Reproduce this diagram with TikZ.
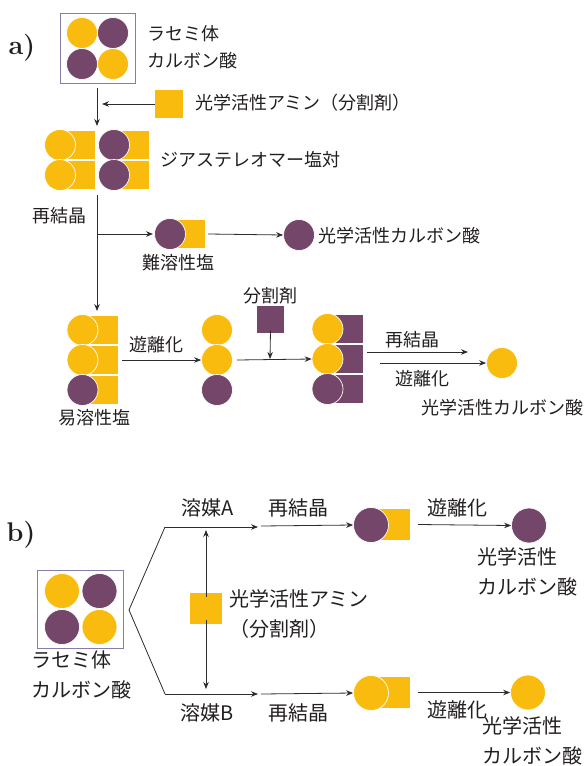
\documentclass[tikz,border=0pt]{standalone}
\usepackage{fontspec}
\newfontfamily\jp{Noto Sans CJK JP}
\usetikzlibrary{arrows.meta}
\definecolor{cy}{RGB}{249,188,14}
\definecolor{cp}{RGB}{116,70,106}
\definecolor{boxc}{RGB}{135,125,170}
\definecolor{txt}{RGB}{35,31,32}
\definecolor{ar}{RGB}{45,45,45}
\begin{document}
\begin{tikzpicture}[x=1pt,y=-1pt,
  yca/.style={circle,fill=cy,draw=white,line width=0.7pt,minimum size=31pt,inner sep=0},
  pca/.style={circle,fill=cp,draw=white,line width=0.7pt,minimum size=31pt,inner sep=0},
  ycb/.style={yca,minimum size=35pt},
  pcb/.style={pca,minimum size=35pt},
  ysq/.style={rectangle,fill=cy,minimum width=28pt,minimum height=28pt,inner sep=0},
  psq/.style={rectangle,fill=cp,minimum width=28pt,minimum height=28pt,inner sep=0},
  ta/.style={font=\jp\fontsize{18}{27}\selectfont,text=txt,inner sep=0,align=left},
  tb/.style={font=\jp\fontsize{20}{30}\selectfont,text=txt,inner sep=0,align=left},
  arr/.style={draw=ar,line width=0.8pt,-{Stealth[length=7pt,width=5.5pt]}},
  ln/.style={draw=ar,line width=0.8pt},
  tag/.style={font=\fontsize{27}{27}\selectfont\bfseries,text=txt,inner sep=0}]
\useasboundingbox (0,0) rectangle (585,766);

% ---------------- a) ----------------
\node[tag] (taga) at (22,48) {a)};
\node[draw=boxc,line width=1pt,minimum width=75pt,minimum height=70pt,inner sep=0] (boxa) at (97.5,48) {};
\node[yca] (ra1) at (82,33) {};
\node[pca] (ra2) at (113,33) {};
\node[pca] (ra3) at (82,64) {};
\node[yca] (ra4) at (113,64) {};
\node[ta,anchor=west] (racA) at (147,47) {ラセミ体\\カルボン酸};

\coordinate (a1s) at (97,88);
\coordinate (a1e) at (97,126);
\draw[arr] (a1s) -- (a1e);
\node[ysq] (amine) at (169,104) {};
\coordinate (a1m) at (102,104);
\draw[arr] (amine.west) -- (a1m);
\node[ta,anchor=west] (amineT) at (195,103) {光学活性アミン（分割剤）};

% diastereomer salts
\node[ysq] (d1s) at (81,145) {};
\node[yca] (d1c) at (60,145) {};
\node[ysq] (d2s) at (81,175) {};
\node[yca] (d2c) at (60,175) {};
\node[ysq] (d3s) at (134.5,145) {};
\node[pca] (d3c) at (114,145) {};
\node[ysq] (d4s) at (134.5,175) {};
\node[pca] (d4c) at (114,175) {};
\node[ta,anchor=west] (diaT) at (160,160) {ジアステレオマー塩対};

\coordinate (v1s) at (97,195);
\coordinate (v1b) at (97,234);
\coordinate (v1e) at (97,311);
\draw[arr] (v1s) -- (v1e);
\node[ta] (recA) at (59,216) {再結晶};

% less soluble salt
\node[ysq] (ls) at (191,234) {};
\node[pca] (lc) at (170,234) {};
\coordinate (lsin) at (153,234);
\draw[arr] (v1b) -- (lsin);
\node[ta] (lsT) at (178,263) {難溶性塩};
\node[pca] (lp) at (299,235) {};
\draw[arr] ([xshift=3pt]ls.east) -- (lp.west);
\node[ta,anchor=west] (lpT) at (318,236) {光学活性カルボン酸};

% more soluble salt
\node[ysq] (m1s) at (104,330) {};
\node[yca] (m1c) at (82.5,330) {};
\node[ysq] (m2s) at (104,360) {};
\node[yca] (m2c) at (82.5,360) {};
\node[ysq] (m3s) at (104,390) {};
\node[pca] (m3c) at (82.5,390) {};
\node[ta] (msT) at (94,418) {易溶性塩};

\node[yca] (f1) at (217,330) {};
\node[yca] (f2) at (217,360) {};
\node[pca] (f3) at (217,390) {};
\draw[arr] ([xshift=4pt]m2s.east) -- (f2.west);
\node[ta] (libA1) at (156,345) {遊離化};

\node[psq,minimum width=27pt,minimum height=27pt] (agent) at (270.5,319) {};
\node[ta] (agentT) at (270,296) {分割剤};
\coordinate (agd) at (270,359);
\draw[arr] ([yshift=2pt]agent.south) -- (agd);

\node[psq,minimum width=29pt] (n1s) at (348.5,329) {};
\node[yca] (n1c) at (327.5,329) {};
\node[psq,minimum width=29pt] (n2s) at (348.5,359) {};
\node[yca] (n2c) at (327.5,359) {};
\node[psq,minimum width=29pt] (n3s) at (348.5,389) {};
\node[pca] (n3c) at (327.5,389) {};
\draw[arr] ([xshift=4pt]f2.east) -- (n2c.west);

\coordinate (r1s) at (367,352);
\coordinate (r1e) at (468,352);
\draw[arr] (r1s) -- (r1e);
\node[ta] (recA2) at (412,340) {再結晶};
\node[yca] (endA) at (502,363) {};
\coordinate (r2s) at (380,363);
\draw[arr] (r2s) -- (endA.west);
\node[ta] (libA2) at (422,379) {遊離化};
\node[ta] (endAT) at (502,408) {光学活性カルボン酸};

% ---------------- b) ----------------
\node[tag] (tagb) at (21,535) {b)};
\node[draw=boxc,line width=1pt,minimum width=86pt,minimum height=78pt,inner sep=0] (boxb) at (80,609) {};
\node[ycb] (rb1) at (62,591) {};
\node[pcb] (rb2) at (99.5,591) {};
\node[pcb] (rb3) at (62,627) {};
\node[ycb] (rb4) at (99.5,627) {};
\node[tb,anchor=north west] (racB) at (31,651) {ラセミ体\\カルボン酸};

\coordinate (bv) at (129,610);
\coordinate (bt) at (165,527);
\coordinate (bb) at (165,694);
\coordinate (bte) at (258,527);
\coordinate (bbe) at (258,694);
\draw[ln] (bv) -- (bt);
\draw[arr] (bt) -- (bte);
\draw[ln] (bv) -- (bb);
\draw[arr] (bb) -- (bbe);
\node[tb] (solA) at (207.5,508) {溶媒A};
\node[tb] (solB) at (207.5,713) {溶媒B};

\node[ysq,minimum width=32pt,minimum height=31pt] (amB) at (206,608.5) {};
\coordinate (amBu) at (206,530);
\coordinate (amBd) at (206,689);
\draw[arr] ([yshift=-4pt]amB.north) -- (amBu);
\draw[arr] ([yshift=4pt]amB.south) -- (amBd);
\node[tb,anchor=north west] (amBT) at (229,589) {光学活性アミン\\（分割剤）};

% top route
\node[ysq,minimum width=33pt,minimum height=31pt] (tss) at (393.5,524.5) {};
\node[pcb] (tsc) at (371,525) {};
\coordinate (tsin) at (261,526);
\draw[arr] (tsin) -- (tsc.west);
\node[tb] (recB1) at (298,508) {再結晶};
\node[pcb] (tend) at (529,525.5) {};
\draw[arr] ([xshift=8pt]tss.east) -- (tend.west);
\node[tb] (libB1) at (457,508) {遊離化};
\node[tb,anchor=north west] (tendT) at (477,547) {光学活性\\カルボン酸};

% bottom route
\node[ysq,minimum width=33pt,minimum height=31pt] (bss) at (393.5,692.5) {};
\node[ycb] (bsc) at (371,693) {};
\coordinate (bsin) at (261,694);
\draw[arr] (bsin) -- (bsc.west);
\node[tb] (recB2) at (298,713) {再結晶};
\node[ycb] (bend) at (528,692.5) {};
\draw[arr] ([xshift=8pt]bss.east) -- (bend.west);
\node[tb] (libB2) at (457,710) {遊離化};
\node[tb,anchor=north west] (bendT) at (482,716) {光学活性\\カルボン酸};
\end{tikzpicture}
\end{document}
